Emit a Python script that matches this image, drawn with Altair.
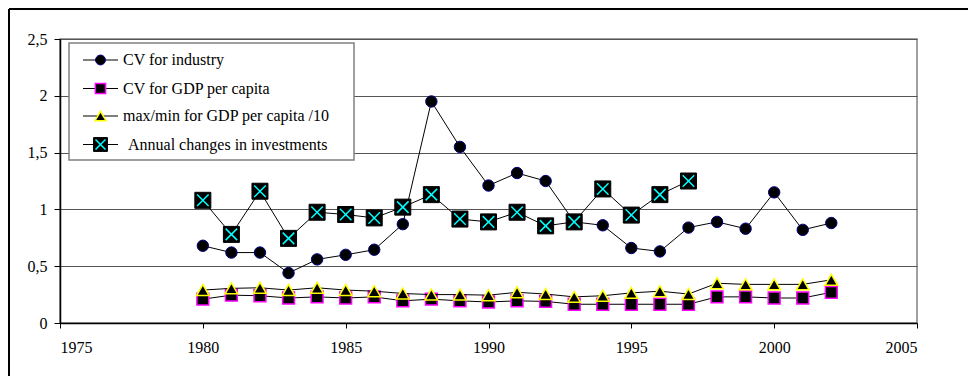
import altair as alt
import pandas as pd

# Series values by year
years = list(range(1980, 2003))
cv_industry = [0.68, 0.62, 0.62, 0.44, 0.56, 0.60, 0.645, 0.87, 1.95, 1.55, 1.21, 1.32,
               1.25, 0.89, 0.86, 0.66, 0.63, 0.84, 0.89, 0.83, 1.15, 0.82, 0.88]
cv_gdp = [0.21, 0.245, 0.24, 0.22, 0.23, 0.22, 0.23, 0.195, 0.21, 0.195, 0.185, 0.195,
          0.19, 0.165, 0.165, 0.165, 0.165, 0.165, 0.23, 0.23, 0.22, 0.22, 0.27]
maxmin_gdp = [0.29, 0.305, 0.31, 0.29, 0.31, 0.29, 0.28, 0.26, 0.25, 0.25, 0.245, 0.27,
              0.255, 0.23, 0.24, 0.265, 0.28, 0.255, 0.35, 0.34, 0.34, 0.34, 0.38]
invest_years = list(range(1980, 1998))
invest_changes = [1.08, 0.78, 1.16, 0.745, 0.975, 0.955, 0.925, 1.02, 1.13, 0.915, 0.89,
                  0.975, 0.855, 0.89, 1.18, 0.95, 1.13, 1.25]

series_labels = ["CV for industry", "CV for GDP per capita",
                 "max/min for GDP per capita /10", "Annual changes in investments"]
x_ticks = [1975, 1980, 1985, 1990, 1995, 2000, 2005]
y_ticks = [0, 0.5, 1, 1.5, 2, 2.5]

FONT = "Liberation Serif"
X_PATH = "M-0.72,-0.72L0.72,0.72M-0.72,0.72L0.72,-0.72"

W, H = 857, 284

df_ind = pd.DataFrame({"year": years, "value": cv_industry})
df_gdp = pd.DataFrame({"year": years, "value": cv_gdp})
df_mm = pd.DataFrame({"year": years, "value": maxmin_gdp})
df_inv = pd.DataFrame({"year": invest_years, "value": invest_changes})

x_enc = alt.X("year:Q", scale=alt.Scale(domain=[1975, 2005], nice=False, zero=False),
              axis=alt.Axis(values=x_ticks, format="d", title=None, grid=False,
                            tickSize=5, labelPadding=11))
y_enc = alt.Y("value:Q", scale=alt.Scale(domain=[0, 2.5], nice=False),
              axis=alt.Axis(values=y_ticks, title=None, grid=True, tickSize=6,
                            labelPadding=7,
                            labelExpr="replace(toString(datum.value), '.', ',')"))

# marker styles per series: list of point-mark option dicts
styles = [
    [dict(shape="circle", fill="#000000", stroke="#000080", strokeWidth=1, size=130)],
    [dict(shape="square", fill="#000000", stroke="#FF00FF", strokeWidth=1.5, size=140)],
    [dict(shape="triangle-up", fill="#000000", stroke="#FFFF00", strokeWidth=1.5, size=160)],
    [dict(shape="square", fill="#000000", stroke="#000000", strokeWidth=1, size=256),
     dict(shape=X_PATH, fill=None, stroke="#00FFFF", strokeWidth=1.5, size=256)],
]
frames = [df_ind, df_gdp, df_mm, df_inv]

layers = []
for d, st in zip(frames, styles):
    layers.append(alt.Chart(d).mark_line(color="black", strokeWidth=1)
                  .encode(x=x_enc, y=y_enc))
    for s in st:
        opts = {k: v for k, v in s.items() if v is not None}
        filled = "fill" in opts
        layers.append(alt.Chart(d).mark_point(filled=filled, opacity=1, **opts)
                      .encode(x=x_enc, y=y_enc))

# Legend panel in the upper left of the plot
one = pd.DataFrame({"k": [0]})
legend_layers = [
    alt.Chart(one).mark_rect(fill="white", stroke="#808080", strokeWidth=1.5)
    .encode(x=alt.value(9), x2=alt.value(294), y=alt.value(4), y2=alt.value(121))
]
row_y = [21, 49.5, 77, 105.5]
for i, label in enumerate(series_labels):
    ly = row_y[i]
    legend_layers.append(alt.Chart(one).mark_rule(color="black", strokeWidth=1)
                         .encode(x=alt.value(23), x2=alt.value(58), y=alt.value(ly)))
    for s in styles[i]:
        opts = {k: v for k, v in s.items() if v is not None}
        filled = "fill" in opts
        opts["size"] = opts["size"] * 0.75
        legend_layers.append(alt.Chart(one).mark_point(filled=filled, opacity=1, **opts)
                             .encode(x=alt.value(40.5), y=alt.value(ly)))
    tx = 68 if i == 3 else 63
    legend_layers.append(alt.Chart(pd.DataFrame({"label": [label]}))
                         .mark_text(align="left", baseline="middle", font=FONT,
                                    fontSize=16, color="black")
                         .encode(x=alt.value(tx), y=alt.value(ly), text="label:N"))

# Outer frame lines (top and left)
frame_layers = [
    alt.Chart(one).mark_rule(color="black", strokeWidth=2)
    .encode(x=alt.value(-51), x2=alt.value(920), y=alt.value(-30)),
    alt.Chart(one).mark_rule(color="black", strokeWidth=2)
    .encode(x=alt.value(-51), y=alt.value(-30), y2=alt.value(345)),
]

chart = (
    alt.layer(*layers, *legend_layers, *frame_layers)
    .properties(width=W, height=H,
                padding={"left": 60, "top": 39, "right": 51, "bottom": 53},
                autosize=alt.AutoSizeParams(type="none"), background="white")
    .configure_view(stroke="#808080", strokeWidth=1.5)
    .configure_axis(labelFont=FONT, labelFontSize=16, labelColor="black",
                    tickColor="black", domainColor="black", domainWidth=1.5,
                    tickWidth=1, gridColor="#555555", gridWidth=1)
)

chart.save("out.html", embed_options={"renderer": "svg", "actions": False})
